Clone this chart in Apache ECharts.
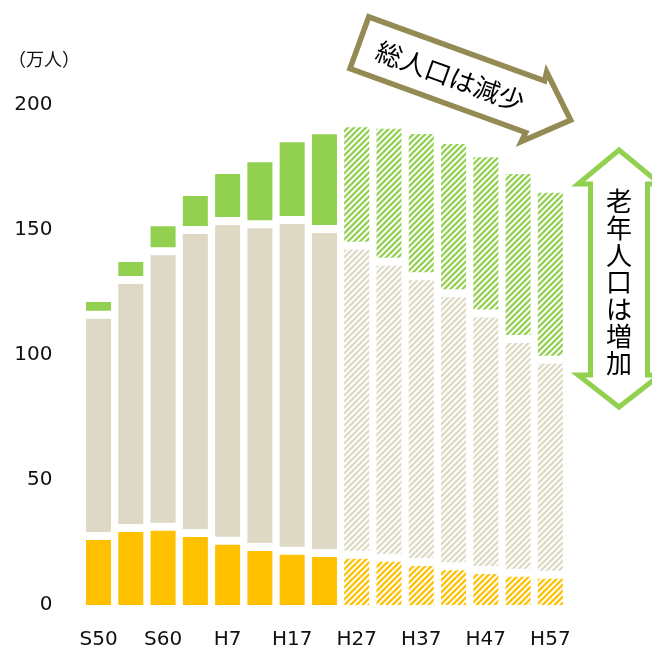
<!DOCTYPE html>
<html>
<head>
<meta charset="utf-8">
<script src="https://cdn.jsdelivr.net/npm/echarts@6/dist/echarts.min.js"></script>
<style>
html,body{margin:0;padding:0;background:#fff;}
#chart{width:652px;height:647px;}
</style>
</head>
<body>
<div id="chart"></div>
<script>
// ---- data (万人) ----
const categories = ['S50','S55','S60','H2','H7','H12','H17','H22','H27','H32','H37','H42','H47','H52','H57'];
const young   = [27.6, 30.8, 31.3, 28.8, 25.7, 23.2, 21.7, 20.8, 20.1, 18.9, 17.2, 15.5, 14.0, 12.9, 12.1];
const working = [88.5, 99.2, 110.2, 121.2, 127.9, 129.1, 132.3, 129.6, 123.6, 118.4, 114.3, 109.2, 102.6, 93.5, 86.0];
const elderly = [5.1, 7.2, 10.0, 13.6, 18.8, 24.8, 31.1, 37.9, 47.4, 53.2, 56.9, 59.7, 62.5, 66.0, 66.8];
const projectionStart = 8; // H27 onward are projections (hatched)
const yTicks = {min: 0, max: 200, step: 50};
const yUnit = '（万人）';
const noteTotal = '総人口は減少';
const noteElderly = '老年人口は増加';

// ---- styling ----
const colors = ['#FFC000', '#DDD9C4', '#92D050'];
const layers = [young, working, elderly];
const GAP = 8;
const BAR_RATIO = 0.775;

function hexToRgb(h){h=h.replace('#','');return [parseInt(h.substr(0,2),16),parseInt(h.substr(2,2),16),parseInt(h.substr(4,2),16)];}
function makeStripe(color){
  const P = 6;
  const c = document.createElement('canvas');
  c.width = P; c.height = P;
  const ctx = c.getContext('2d');
  const img = ctx.createImageData(P, P);
  const rgb = hexToRgb(color);
  const cov = [1, 1, 0.6, 0, 0, 0.6];
  for (let y = 0; y < P; y++) for (let x = 0; x < P; x++) {
    const a = cov[(x + y) % P];
    const k = (y * P + x) * 4;
    img.data[k]   = Math.round(255 + (rgb[0] - 255) * a);
    img.data[k+1] = Math.round(255 + (rgb[1] - 255) * a);
    img.data[k+2] = Math.round(255 + (rgb[2] - 255) * a);
    img.data[k+3] = 255;
  }
  ctx.putImageData(img, 0, 0);
  return {image: c, repeat: 'repeat'};
}
const patterns = colors.map(makeStripe);

function makeRender(k){
  return function(params, api){
    const i = api.value(0);
    const v = api.value(1);
    let base = 0;
    for (let j = 0; j < k; j++) base += layers[j][i];
    const p0 = api.coord([i, base]);
    const p1 = api.coord([i, base + v]);
    const bw = api.size([1, 0])[0] * BAR_RATIO;
    let yb = p0[1], yt = p1[1];
    if (k > 0) yb -= GAP / 2;
    if (k < layers.length - 1) yt += GAP / 2;
    return {
      type: 'rect',
      shape: {x: p0[0] - bw / 2, y: yt, width: bw, height: Math.max(0, yb - yt)},
      style: {fill: i >= projectionStart ? patterns[k] : colors[k]}
    };
  };
}

const series = layers.map((arr, k) => ({
  type: 'custom',
  renderItem: makeRender(k),
  encode: {x: 0, y: 1},
  data: arr.map((v, i) => [i, v]),
  silent: true
}));

// arrow "総人口は減少" (rotated)
const ang = 20 * Math.PI / 180;
const u = [Math.cos(ang), Math.sin(ang)], n = [-Math.sin(ang), Math.cos(ang)];
const o = [367, 13];
function L(a, b){return [o[0] + a * u[0] + b * n[0], o[1] + a * u[1] + b * n[1]];}
const arrow1 = [L(3,3), L(190,3), L(189,-6), L(228,31), L(189,68), L(190,58), L(3,58)];
const txt1 = L(100, 31);

// vertical double arrow
const cx = 619;
const arrow2 = [[cx,150],[cx+41,184],[cx+28.5,184],[cx+28.5,375],[cx+41,375],[cx,407],[cx-41,375],[cx-28.5,375],[cx-28.5,184],[cx-41,184]];

const chart = echarts.init(document.getElementById('chart'), null, {renderer: 'canvas'});
chart.setOption({
  animation: false,
  backgroundColor: '#fff',
  grid: {left: 82.4, right: 85.5, top: 105, bottom: 42, containLabel: false, outerBoundsMode: 'none'},
  xAxis: {
    type: 'category',
    data: categories,
    axisLine: {show: false}, axisTick: {show: false}, splitLine: {show: false},
    axisLabel: {interval: 1, fontSize: 20, color: '#111', fontFamily: 'DejaVu Sans', margin: 25}
  },
  yAxis: {
    type: 'value', min: yTicks.min, max: yTicks.max, interval: yTicks.step,
    axisLine: {show: false}, axisTick: {show: false}, splitLine: {show: false},
    axisLabel: {fontSize: 20, color: '#111', fontFamily: 'DejaVu Sans', margin: 30}
  },
  series: series,
  graphic: [
    {type: 'text', left: 8, top: 50, style: {text: yUnit, font: '18px "Noto Sans CJK JP"', fill: '#111'}},
    {type: 'polygon', shape: {points: arrow1}, style: {fill: '#fff', stroke: '#948A54', lineWidth: 5.5, lineJoin: 'miter'}, z: 10},
    {type: 'text', x: txt1[0], y: txt1[1], rotation: -ang, style: {text: noteTotal, font: '26px "Noto Sans CJK JP"', fill: '#000', align: 'center', verticalAlign: 'middle'}, z: 11},
    {type: 'polygon', shape: {points: arrow2}, style: {fill: '#fff', stroke: '#92D050', lineWidth: 5, lineJoin: 'miter'}, z: 10},
    {type: 'text', x: cx, y: 282, style: {text: noteElderly.split('').join('\n'), font: '26px "Noto Sans CJK JP"', lineHeight: 27, fill: '#000', align: 'center', verticalAlign: 'middle'}, z: 11}
  ]
});
</script>
</body>
</html>
